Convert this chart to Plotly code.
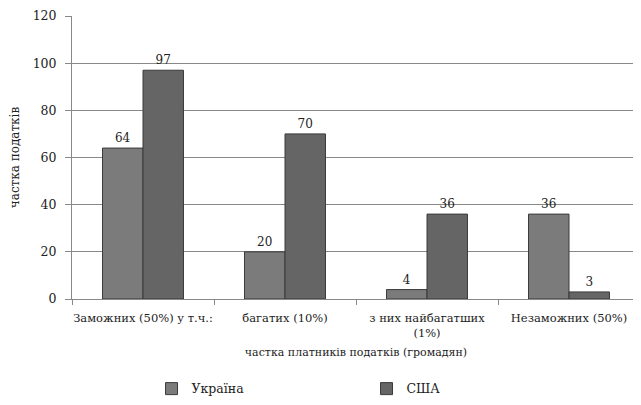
import plotly.graph_objects as go

categories = ["Заможних (50%) у т.ч.:", "багатих (10%)", "з них найбагатших<br>(1%)", "Незаможних (50%)"]
ukraine = [64, 20, 4, 36]
usa = [97, 70, 36, 3]
y_ticks = [0, 20, 40, 60, 80, 100, 120]

FAM = "DejaVu Serif, serif"
font = dict(family=FAM, size=12, color="#222222")

fig = go.Figure()
fig.add_trace(go.Bar(
    x=categories, y=ukraine, name="Україна",
    marker=dict(color="#7b7b7b", line=dict(color="#3a3a3a", width=1)),
    text=ukraine, textposition="outside", textfont=font, cliponaxis=False,
))
fig.add_trace(go.Bar(
    x=categories, y=usa, name="США",
    marker=dict(color="#656565", line=dict(color="#3a3a3a", width=1)),
    text=usa, textposition="outside", textfont=font, cliponaxis=False,
))

fig.update_layout(
    width=633, height=397,
    margin=dict(l=64, r=1, t=8, b=103),
    paper_bgcolor="white", plot_bgcolor="white",
    font=font,
    barmode="group", bargap=0.43, bargroupgap=0,
    showlegend=True,
    legend=dict(orientation="h", x=0.14, xanchor="left", y=-0.265, yanchor="top",
                entrywidth=170, entrywidthmode="pixels", itemwidth=30,
                font=dict(family=FAM, size=12.5, color="#222222"), bgcolor="rgba(0,0,0,0)"),
    xaxis=dict(
        automargin=False,
        showline=True, linecolor="#888888", linewidth=1,
        ticks="outside", tickson="boundaries", ticklen=5, tickcolor="#888888",
        showgrid=False, tickangle=0, ticklabelstandoff=8,
        tickfont=dict(family=FAM, size=11.5, color="#222222"),
        title=dict(text="частка платників податків (громадян)", font=dict(family=FAM, size=11, color="#222222"), standoff=9),
    ),
    yaxis=dict(
        automargin=False,
        range=[0, 120], tickvals=y_ticks,
        showline=True, linecolor="#888888", linewidth=1,
        ticks="outside", ticklen=6, tickcolor="#888888", ticklabelstandoff=6,
        ticklabeloverflow="allow",
        showgrid=True, gridcolor="#888888", gridwidth=1,
        tickfont=dict(family=FAM, size=12.5, color="#222222"),
        title=dict(text="частка податків", font=dict(family=FAM, size=12, color="#222222"), standoff=16),
        zeroline=False,
    ),
)

fig.write_html("out.html")
